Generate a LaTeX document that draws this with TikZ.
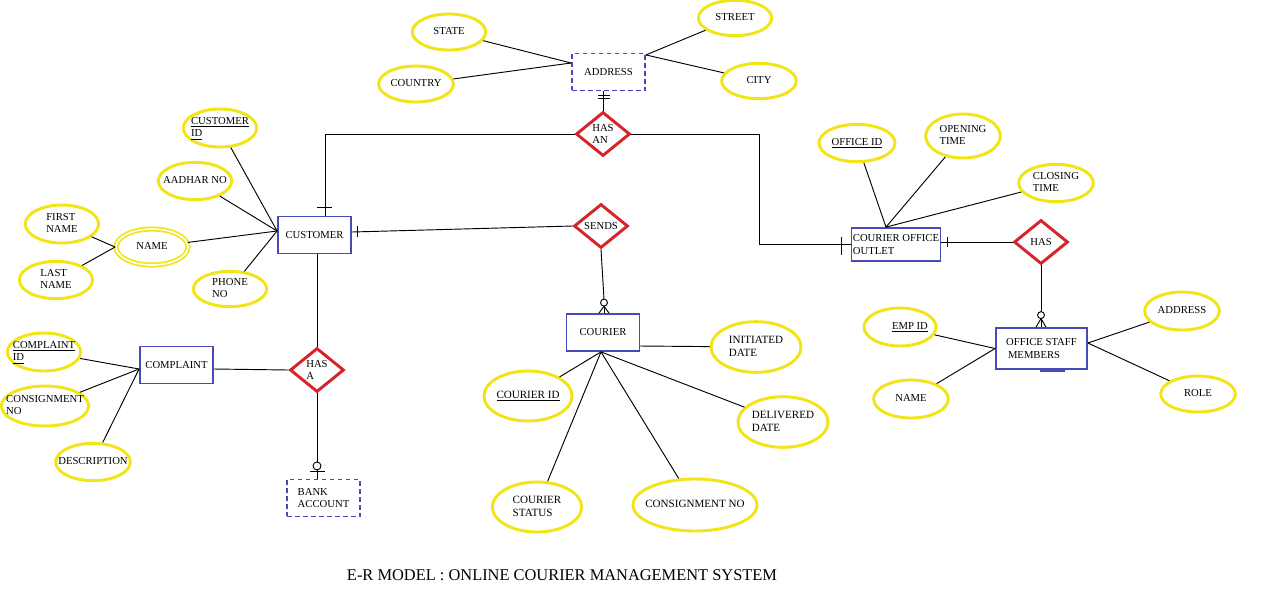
\documentclass[tikz,border=0pt]{standalone}
\usepackage{fontspec}
\setmainfont{Liberation Serif}
\usetikzlibrary{shapes.geometric,calc}
\definecolor{eyel}{RGB}{242,228,22}
\definecolor{eblue}{RGB}{72,74,182}
\definecolor{rred}{RGB}{214,36,42}
\newcommand\zt[1]{\makebox[0pt]{\raisebox{\dimexpr(\depth-\height)/2\relax}[0pt][0pt]{\begin{tabular}{@{}l@{}}#1\end{tabular}}}}
\tikzset{
  attr/.style 2 args={ellipse, draw=eyel, line width=2.2pt, minimum width=#1, minimum height=#2, inner sep=0pt, font=\fontsize{8}{9.6}\selectfont},
  big/.style={font=\fontsize{8.3}{10}\selectfont},
  multi/.style={double=white, double distance=1.2pt, line width=1.3pt},
  ent/.style 2 args={rectangle, draw=eblue, line width=1.1pt, minimum width=#1, minimum height=#2, inner sep=0pt, align=left, font=\fontsize{8}{9.6}\selectfont},
  weakent/.style 2 args={ent={#1}{#2}, dash pattern=on 3.5pt off 2.5pt},
  rel/.style={diamond, draw=rred, line width=2.2pt, minimum width=40.5pt, minimum height=33pt, inner sep=0pt, align=left, font=\fontsize{8}{9.6}\selectfont},
  conn/.style={draw=black, line width=0.7pt},
}
\begin{document}
\begin{tikzpicture}[x=0.75pt,y=-0.75pt]
\useasboundingbox (0,0) rectangle (1280,593);

% entities
\node[ent={55pt}{27.5pt}] (cu) at (314.5,235) {CUSTOMER};
\node[weakent={55pt}{27.5pt}] (ad) at (608.5,72) {ADDRESS};
\node[ent={66.5pt}{25pt}] (coo) at (896,244.5) {COURIER OFFICE\\OUTLET};
\node[ent={55pt}{27.5pt}] (cp) at (176.5,365) {COMPLAINT};
\node[weakent={55pt}{27.5pt}] (ba) at (323.5,498) {BANK\\ACCOUNT};
\node[ent={54.5pt}{28pt}] (co) at (603,332.5) {COURIER};
\node[ent={68.5pt}{31pt}] (os) at (1041.5,348.5) {OFFICE STAFF\\\,MEMBERS};

% relationships
\node[rel] (hasan) at (603,134) {HAS\\AN};
\node[rel] (sends) at (601,226) {SENDS};
\node[rel] (has) at (1041,242) {HAS};
\node[rel] (hasa) at (317,370) {HAS\\A};

% attributes
\node[attr={55pt}{27pt}] (stt) at (449,32) {\zt{STATE}};
\node[attr={56pt}{27pt}] (cty) at (416,84) {\zt{COUNTRY}};
\node[attr={55pt}{26.5pt}] (str) at (735,18) {\zt{STREET}};
\node[attr={56pt}{26.5pt}] (cit) at (759,81) {\zt{CITY}};
\node[attr={55pt}{28.5pt}] (cid) at (220,128) {\zt{\underline{CUSTOMER}\\\underline{ID}}};
\node[attr={55pt}{28pt}] (aad) at (195,181) {\zt{AADHAR NO}};
\node[attr={55pt}{28.5pt}] (fn) at (62,224) {\zt{FIRST\\NAME}};
\node[attr={54pt}{27pt}, multi] (nam) at (152,247) {\zt{NAME}};
\node[attr={55pt}{28pt}] (ln) at (56,280) {\zt{LAST\\NAME}};
\node[attr={55pt}{26.5pt}] (pho) at (230,289) {\zt{PHONE\\NO}};
\node[attr={55pt}{28.5pt}] (cpid) at (44,352) {\zt{\underline{COMPLAINT}\\\underline{ID}}};
\node[attr={65.5pt}{30pt}] (cns1) at (45,406) {\zt{CONSIGNMENT\\NO}};
\node[attr={56pt}{28pt}] (des) at (93,462) {\zt{DESCRIPTION}};
\node[attr={66pt}{37.5pt}, big] (coid) at (528,396) {\zt{\underline{COURIER ID}}};
\node[attr={67.5pt}{38pt}, big] (idt) at (756,347) {\zt{INITIATED\\DATE}};
\node[attr={67.5pt}{38pt}, big] (ddt) at (783,422) {\zt{DELIVERED\\DATE}};
\node[attr={67pt}{37.5pt}, big] (cst) at (537,507) {\zt{COURIER\\STATUS}};
\node[attr={93pt}{39pt}, big] (cns2) at (695,505) {\zt{CONSIGNMENT NO}};
\node[attr={57pt}{28pt}] (oid) at (857,143) {\zt{\underline{OFFICE ID}}};
\node[attr={56pt}{33pt}] (opt) at (963,136) {\zt{OPENING\\TIME}};
\node[attr={56pt}{28pt}] (clt) at (1056,183) {\zt{CLOSING\\TIME}};
\node[attr={54pt}{28.5pt}] (emp) at (900,327) {\zt{\hspace*{15pt}\underline{EMP ID}}};
\node[attr={56pt}{28.5pt}] (nm2) at (911,399) {\zt{NAME}};
\node[attr={56pt}{28.5pt}] (ad2) at (1182,311) {\zt{ADDRESS}};
\node[attr={56pt}{27pt}] (rol) at (1198,394) {\zt{ROLE}};

% title
\node[font=\fontsize{12.3}{14}\selectfont] (title) at (562,575) {E-R MODEL : ONLINE COURIER MANAGEMENT SYSTEM};

% attribute connectors
\draw[conn] (stt) -- ($(ad.west)+(0,-9)$);
\draw[conn] (cty) -- ($(ad.west)+(0,-9)$);
\draw[conn] (str) -- ($(ad.north east)+(0,2)$);
\draw[conn] (cit) -- ($(ad.north east)+(0,2)$);
\draw[conn] (cid) -- ($(cu.west)+(0,-4)$);
\draw[conn] (aad) -- ($(cu.west)+(0,-4)$);
\draw[conn] (nam) -- ($(cu.west)+(0,-4)$);
\draw[conn] (pho) -- ($(cu.west)+(0,-4)$);
\draw[conn] (fn) -- (nam.west);
\draw[conn] (ln) -- (nam.west);
\draw[conn] (cpid) -- ($(cp.west)+(0,4)$);
\draw[conn] (cns1) -- ($(cp.west)+(0,4)$);
\draw[conn] (des) -- ($(cp.west)+(0,4)$);
\draw[conn] (coid) -- ($(co.south)+(-2,0)$);
\draw[conn] (cst) -- ($(co.south)+(-2,0)$);
\draw[conn] (cns2) -- ($(co.south)+(-2,0)$);
\draw[conn] (ddt) -- ($(co.south)+(-2,0)$);
\draw[conn] (idt) -- ($(co.east)+(0,13.5)$);
\draw[conn] (oid) -- ($(coo.north)+(-10,0)$);
\draw[conn] (opt) -- ($(coo.north)+(-10,0)$);
\draw[conn] (clt) -- ($(coo.north)+(-10,0)$);
\draw[conn] (emp) -- (os.west);
\draw[conn] (nm2) -- (os.west);
\draw[conn] (ad2) -- ($(os.east)+(0,-5.5)$);
\draw[conn] (rol) -- ($(os.east)+(0,-5.5)$);

% ADDRESS -- HAS AN
\draw[conn] (hasan.north) -- (hasan.north |- ad.south);
\draw[conn] ($(hasan.north |- ad.south)+(-5,4)$) -- +(12,0);
\draw[conn] ($(hasan.north |- ad.south)+(-5,7)$) -- +(12,0);
% HAS AN -- CUSTOMER
\draw[conn] (hasan.west) -| ($(cu.north)+(10.5,0)$);
\draw[conn] ($(cu.north)+(2.5,-8)$) -- +(15,0);
% HAS AN -- COURIER OFFICE OUTLET
\draw[conn] (hasan.east) -| ($(coo.west)+(-91,0)$) -- (coo.west);
\draw[conn] ($(coo.west)+(-9,-8)$) -- +(0,18);
% CUSTOMER -- SENDS
\draw[conn] ($(cu.east)+(0,-3)$) -- (sends.west);
\draw[conn] ($(cu.east)+(6,-9)$) -- +(0,11);
% SENDS -- COURIER
\coordinate (sc) at ($(co.north)+(1,-10.5)$);
\draw[conn] (sends.south) -- ($(sc)+(0,-3.5)$);
\draw[conn] (sc) circle[radius=2.6pt];
\draw[conn] ($(sc)+(0,3.5)$) -- ($(co.north)+(-4,0)$);
\draw[conn] ($(sc)+(0,3.5)$) -- ($(co.north)+(1,0)$);
\draw[conn] ($(sc)+(0,3.5)$) -- ($(co.north)+(6,0)$);
% CUSTOMER -- HAS A
\draw[conn] (hasa.north) -- (hasa.north |- cu.south);
% COMPLAINT -- HAS A
\draw[conn] ($(cp.east)+(0,4)$) -- (hasa.west);
% HAS A -- BANK ACCOUNT
\coordinate (bc) at ($(hasa.south |- ba.north)+(0,-13)$);
\draw[conn] (hasa.south) -- ($(bc)+(0,-4)$);
\draw[conn] (bc) circle[radius=3pt];
\draw[conn] ($(bc)+(0,4)$) -- (hasa.south |- ba.north);
\draw[conn] ($(bc)+(-7,6)$) -- +(15,0);
% COURIER OFFICE OUTLET -- HAS
\draw[conn] (has.west) -- (has.west -| coo.east);
\draw[conn] ($(has.west -| coo.east)+(6,-5)$) -- +(0,10);
% HAS -- OFFICE STAFF MEMBERS
\coordinate (hc) at ($(os.north)+(-0.5,-12)$);
\draw[conn] (has.south) -- ($(hc)+(0,-3.5)$);
\draw[conn] (hc) circle[radius=2.6pt];
\draw[conn] ($(hc)+(0,3.5)$) -- ($(os.north)+(-5.5,0)$);
\draw[conn] ($(hc)+(0,3.5)$) -- ($(os.north)+(-0.5,0)$);
\draw[conn] ($(hc)+(0,3.5)$) -- ($(os.north)+(4.5,0)$);
\draw[eblue, line width=1.5pt] ($(os.south)+(-1.5,1)$) -- +(25,0);
\end{tikzpicture}
\end{document}
